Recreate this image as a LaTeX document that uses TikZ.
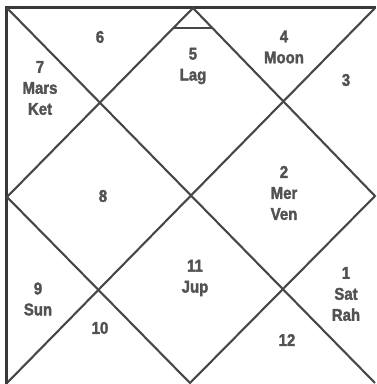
\documentclass[tikz,border=0pt]{standalone}
\usepackage{fontspec}
\newfontfamily\chartfont[FakeStretch=0.88, FakeBold=2]{Liberation Sans Bold}
\usetikzlibrary{positioning}

\tikzset{
  frame/.style={line width=3pt, draw=black!78},
  chartline/.style={line width=2.1pt, draw=black!72},
  house/.style={font=\chartfont\fontsize{17}{21}\selectfont, text=black!68,
    align=center, inner sep=0pt}
}

\begin{document}
\begin{tikzpicture}[x=1pt, y=-1pt]
\useasboundingbox (0,0) rectangle (376,384);
% frame: only left and top edges show
\draw[frame] (6,384) -- (6,7) -- (376,7);
% the two diagonals of the square
\draw[chartline] (7,8) -- (375,383);
\draw[chartline] (375,8) -- (7,383);
% inner diamond
\draw[chartline] (193,8) -- (375,196) -- (190,383) -- (7,197) -- cycle;
% lagna mark at the top
\draw[chartline] (173,28) -- (212,28);

% houses, counted as printed
\node[house] (h5)  at (193,66)  {5\\Lag};
\node[house] (h6)  at (100,37)  {6};
\node[house] (h4)  at (284,47)  {4\\Moon};
\node[house] (h3)  at (346,80)  {3};
\node[house] (h7)  at (40,88)   {7\\Mars\\Ket};
\node[house] (h8)  at (103,196) {8};
\node[house] (h2)  at (284,193) {2\\Mer\\Ven};
\node[house] (h9)  at (38,299)  {9\\Sun};
\node[house] (h10) at (100,328) {10};
\node[house] (h11) at (195,278) {11\\Jup};
\node[house] (h12) at (287,340) {12};
\node[house] (h1)  at (346,294) {1\\Sat\\Rah};
\end{tikzpicture}
\end{document}
